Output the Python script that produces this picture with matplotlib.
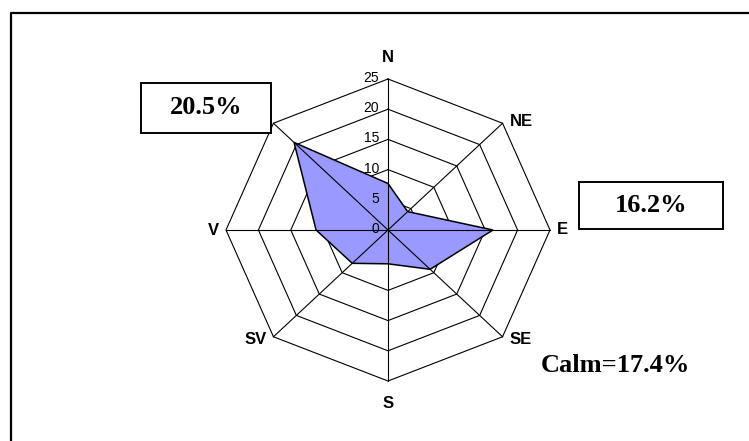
import numpy as np
import matplotlib
matplotlib.use('Agg')
import matplotlib.pyplot as plt
from matplotlib.patches import Rectangle
from matplotlib.lines import Line2D

directions = ['N', 'NE', 'E', 'SE', 'S', 'SV', 'V', 'NV']
values = [7.7, 4.3, 16.2, 9.2, 5.6, 7.8, 11.1, 20.5]
ticks = [0, 5, 10, 15, 20, 25]
box_left = '20.5%'
box_right = '16.2%'
calm_text = 'Calm=17.4%'

W, H = 749, 441


def fx(px):
    return px / W


def fy(py):
    return 1 - py / H


fig = plt.figure(figsize=(W / 100, H / 100), dpi=100)
fig.patch.set_facecolor('white')

rmax = ticks[-1]
ax = fig.add_axes([fx(226), fy(381), 324 / W, 302 / H])
ax.set_xlim(-rmax, rmax)
ax.set_ylim(-rmax, rmax)
ax.axis('off')

ang = np.arange(len(directions)) * 2 * np.pi / len(directions)
sx, cy = np.sin(ang), np.cos(ang)

# octagon grid rings
for t in ticks[1:]:
    ax.plot(np.append(t * sx, t * sx[0]), np.append(t * cy, t * cy[0]),
            color='black', lw=0.8, clip_on=False, zorder=1)
# spokes
for s, c in zip(sx, cy):
    ax.plot([0, rmax * s], [0, rmax * c], color='black', lw=0.8,
            clip_on=False, zorder=3)

v = np.array(values)
ax.fill(v * sx, v * cy, facecolor='#9999FF', edgecolor='black', lw=1.1,
        zorder=2)

# scale labels along N axis
for t in ticks:
    ax.annotate(str(t), (0, t), xytext=(-9, 1), textcoords='offset pixels',
                ha='right', va='center', fontsize=10,
                family='Liberation Sans', zorder=4)

# direction labels
for name, s, c in zip(directions, sx, cy):
    if abs(s) < 0.1:
        ha, dx = 'center', 0
        va = 'bottom' if c > 0 else 'top'
        dy = 14 if c > 0 else -15
    else:
        ha = 'left' if s > 0 else 'right'
        dx = 7 if s > 0 else -7
        va = 'center'
        dy = 0 if abs(c) < 0.1 else (2 if c > 0 else -3)
    ax.annotate(name, (rmax * s, rmax * c), xytext=(dx, dy),
                textcoords='offset pixels', ha=ha, va=va, fontsize=12,
                fontweight='bold', family='Liberation Sans', zorder=4)

# outer frame (left and top edges)
fig.add_artist(Line2D([fx(11), fx(11), 1], [0, fy(13), fy(13)],
                      color='black', lw=1.6, transform=fig.transFigure))


def label_box(x0, y0, x1, y1, txt):
    fig.add_artist(Rectangle((fx(x0), fy(y1)), (x1 - x0) / W, (y1 - y0) / H,
                             transform=fig.transFigure, facecolor='white',
                             edgecolor='black', lw=1.4, zorder=5))
    fig.text(fx((x0 + x1) / 2), fy((y0 + y1) / 2), txt, ha='center',
             va='center', fontsize=19, fontweight='bold',
             family='Liberation Serif', zorder=6)


label_box(141, 83, 271, 133, box_left)
label_box(579, 182, 723, 229, box_right)

fig.text(fx(615), fy(365), calm_text, ha='center', va='center', fontsize=19,
         fontweight='bold', family='Liberation Serif')

fig.savefig('out.png', dpi=100)
